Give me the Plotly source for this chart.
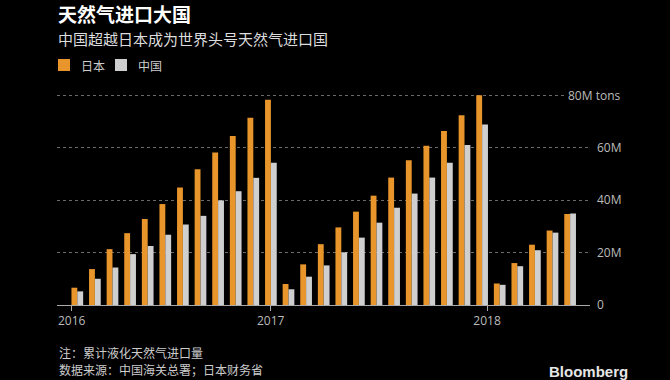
import plotly.graph_objects as go

months = [f"{y}-{m:02d}" for y in (2016, 2017) for m in range(1, 13)] + [f"2018-{m:02d}" for m in range(1, 6)]
japan = [6.6, 13.7, 21.3, 27.4, 32.8, 38.5, 44.8, 51.8, 58.2, 64.5, 71.4, 78.3,
         8.0, 15.5, 23.2, 29.6, 35.6, 41.7, 48.6, 55.2, 60.7, 66.4, 72.4, 80.0,
         8.2, 16.0, 23.0, 28.4, 34.7]
china = [5.2, 10.0, 14.3, 19.4, 22.5, 26.8, 30.7, 34.0, 39.9, 43.4, 48.5, 54.3,
         6.0, 10.8, 15.1, 20.1, 25.7, 31.4, 37.1, 42.5, 48.6, 54.3, 61.0, 68.8,
         7.7, 14.8, 20.9, 27.6, 34.9]
series_names = ["日本", "中国"]
year_ticks = ["2016", "2017", "2018"]
year_tick_pos = [-0.32, 10.99, 23.28]
y_ticks = [0, 20, 40, 60, 80]
y_tick_text = ["0", "20M", "40M", "60M", ""]
top_label = "80M tons"

idx = list(range(len(months)))
ORANGE = "#E8952B"
GRAY = "#CFCFCF"
colors = [ORANGE, GRAY]
FONT = "Noto Sans CJK SC"

W, H = 670, 380
L, R, T, B = 57, 80, 90, 75
ph = H - T - B
pw = W - L - R


def py(p):
    return (H - B - p) / ph


def px_(p):
    return (p - L) / pw


fig = go.Figure()
for name, vals, col in zip(series_names, [japan, china], colors):
    fig.add_trace(go.Bar(x=idx, y=vals, name=name, marker=dict(color=col, line=dict(width=0)),
                         customdata=months, showlegend=False))

fig.update_layout(
    width=W, height=H,
    paper_bgcolor="black", plot_bgcolor="black",
    margin=dict(l=L, r=R, t=T, b=B),
    barmode="group", bargap=0.335, bargroupgap=0,
    font=dict(family=FONT, color="#BBBBBB", size=12),
    showlegend=False,
    xaxis=dict(range=[-1.153, 29.13], tickmode="array", tickvals=year_tick_pos, ticktext=year_ticks,
               showgrid=False, zeroline=False, showline=True, linecolor="#AAAAAA", linewidth=1,
               ticks="outside", ticklen=5, tickcolor="#AAAAAA",
               tickfont=dict(family="Open Sans", size=12, color="#BBBBBB")),
    yaxis=dict(range=[0, 82], side="right", tickmode="array", tickvals=y_ticks, ticktext=y_tick_text,
               showgrid=True, gridcolor="#6A6A6A", griddash="dot", gridwidth=1,
               zeroline=False, showline=False, ticks="",
               ticklabelstandoff=6,
               tickfont=dict(family="Open Sans", size=12, color="#BBBBBB")),
)

# legend (manual, Bloomberg style)
legend_x = [58, 115]
for name, col, lx in zip(series_names, colors, legend_x):
    fig.add_shape(type="rect", xref="paper", yref="paper",
                  x0=px_(lx), x1=px_(lx + 12), y0=py(71), y1=py(59),
                  fillcolor=col, line=dict(width=0))
    fig.add_annotation(x=px_(lx + 21), xref="paper", y=py(65), yref="paper", yanchor="middle",
                       xanchor="left", text=name, showarrow=False,
                       font=dict(family=FONT, size=12, color="#CCCCCC"))

fig.add_annotation(x=(622 - L) / pw, y=80, xref="paper", yref="y", text=top_label, showarrow=False,
                   xanchor="right", yanchor="middle", bgcolor="black",
                   font=dict(family="Open Sans", size=12, color="#BBBBBB"))
fig.add_annotation(x=px_(56), xref="paper", y=py(13), yref="paper", yanchor="middle",
                   text="<b>天然气进口大国</b>", showarrow=False, xanchor="left",
                   font=dict(family=FONT, size=19, color="white"))
fig.add_annotation(x=px_(56), xref="paper", y=py(38), yref="paper", yanchor="middle",
                   text="中国超越日本成为世界头号天然气进口国", showarrow=False, xanchor="left",
                   font=dict(family=FONT, size=15, color="#DDDDDD"))
fig.add_annotation(x=px_(57), xref="paper", y=py(352), yref="paper", yanchor="middle",
                   text="注：累计液化天然气进口量", showarrow=False, xanchor="left",
                   font=dict(family=FONT, size=12, color="#CCCCCC"))
fig.add_annotation(x=px_(57), xref="paper", y=py(369), yref="paper", yanchor="middle",
                   text="数据来源：中国海关总署；日本财务省", showarrow=False, xanchor="left",
                   font=dict(family=FONT, size=12, color="#CCCCCC"))
fig.add_annotation(x=px_(630), xref="paper", y=py(371), yref="paper", yanchor="middle",
                   text="<b>Bloomberg</b>", showarrow=False, xanchor="right",
                   font=dict(family="Liberation Sans", size=15, color="#E6E6E6"))

fig.write_html("out.html", config={"displayModeBar": False})

# remove default browser body margin so the figure sits at the page origin
with open("out.html", "r", encoding="utf-8") as f:
    html = f.read()
html = html.replace("<body>", '<body style="margin:0;padding:0;background:black;">', 1)
with open("out.html", "w", encoding="utf-8") as f:
    f.write(html)
